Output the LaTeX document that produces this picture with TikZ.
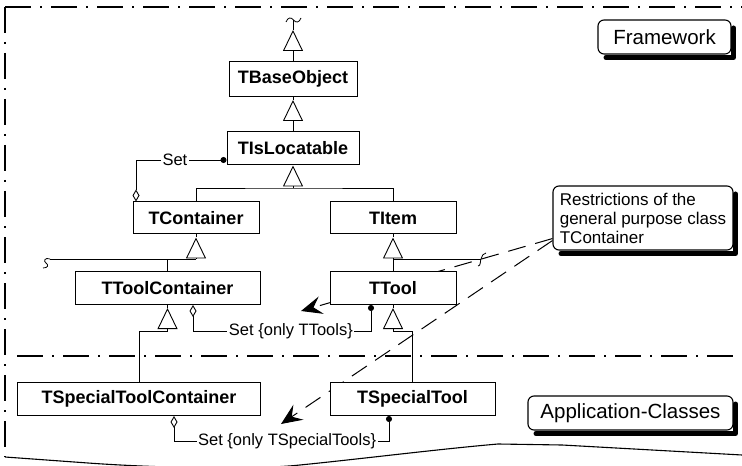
\documentclass[tikz,border=0pt]{standalone}
\usepackage{fontspec}
\setmainfont{Liberation Sans}
\usetikzlibrary{arrows.meta,calc}
\pgfdeclarelayer{bg}
\pgfsetlayers{bg,main}

\tikzset{
  cls/.style={draw, line width=1bp, fill=white, minimum height=33bp, inner sep=0pt,
    font=\bfseries\fontsize{18bp}{20bp}\selectfont},
  tag/.style={draw, line width=1.1bp, fill=white, rounded corners=6bp, inner sep=0pt,
    font=\fontsize{20.5bp}{24bp}\selectfont},
  shadowstroke/.style={draw=black, line width=5bp, line join=round, line cap=round},
  link/.style={line width=0.9bp},
  gen/.style={link, -{Triangle[open, length=21bp, width=20bp]}},
  aggr/.style={link, {Circle[length=6bp]}-{Diamond[open, length=12bp, width=7bp]}},
  lbl/.style={fill=white, inner sep=1.5bp, font=\fontsize{16.5bp}{19bp}\selectfont},
  frameline/.style={line width=1.1bp, dash pattern=on 26bp off 9bp on 2bp off 9bp},
  restr/.style={line width=1bp, dash pattern=on 18bp off 10bp,
    -{Stealth[length=21bp, width=18bp, inset=8bp]}},
  cutmark/.style={line width=0.8bp},
}

\begin{document}
\begin{tikzpicture}[x=1bp, y=-1bp]
\useasboundingbox (0,0) rectangle (742,466);
\begin{pgfonlayer}{bg}
  \fill[white] (0,0) rectangle (742,466);
\end{pgfonlayer}

% classes
\node[cls, minimum width=128bp, minimum height=35bp] (base) at (293,79) {TBaseObject};
\node[cls, minimum width=132bp] (loc) at (293,148.5) {TIsLocatable};
\node[cls, minimum width=126bp, minimum height=32bp] (cont) at (196,218) {TContainer};
\node[cls, minimum width=126bp, minimum height=32bp] (item) at (393,218) {TItem};
\node[cls, minimum width=185bp] (tcont) at (167.5,288) {TToolContainer};
\node[cls, minimum width=126bp] (tool) at (393,288) {TTool};
\node[cls, minimum width=242bp] (stcont) at (139,399) {TSpecialToolContainer};
\node[cls, minimum width=165bp] (stool) at (412.5,399) {TSpecialTool};

% layer tags and note
\node[tag, minimum width=133bp, minimum height=34bp] (fw) at (664.5,37) {Framework};
\node[tag, minimum width=205bp, minimum height=34bp] (app) at (630.5,413) {Application-Classes};
\node[tag, font=\fontsize{17bp}{19bp}\selectfont, align=left,
  inner xsep=5bp, minimum width=180bp, minimum height=64bp] (note) at (643,218)
  {Restrictions of the\\general purpose class\\TContainer};

% cast shadows along the lower and right edges of the tags
\coordinate (fwA) at (606,57.5);  \coordinate (fwB) at (733.5,57.5);  \coordinate (fwC) at (733.5,28);
\coordinate (appA) at (536,433.5); \coordinate (appB) at (735.5,433.5); \coordinate (appC) at (735.5,404);
\coordinate (noteA) at (561,253.5); \coordinate (noteB) at (735.5,253.5); \coordinate (noteC) at (735.5,194);
\draw[shadowstroke] (fwA) -- (fwB) -- (fwC);
\draw[shadowstroke] (appA) -- (appB) -- (appC);
\draw[shadowstroke] (noteA) -- (noteB) -- (noteC);

% inheritance
\coordinate (topapex) at (293,30);
\coordinate (topcut) at (293,20.5);
\draw[gen] (base.north) -- (topapex);
\draw[link] (topapex) -- (topcut);
\draw[cutmark] (286,22) .. controls (288,17) and (291,17) .. (293.5,20)
  .. controls (296,23) and (299,23) .. (301,18);

\draw[gen] (loc.north) -- ([yshift=-3bp]base.south);
\draw[link] (base.south) -- ([yshift=-3bp]base.south);

\coordinate (j1) at (293,188);
\draw[gen] (j1) -- (loc.south);
\draw[link] (cont.north) |- (j1) -| (item.north);

\coordinate (j2) at (196,259);
\coordinate (sqL) at (50,259);
\draw[gen] (j2) -- ([yshift=-3bp]cont.south);
\draw[link] (cont.south) -- ([yshift=-3bp]cont.south);
\draw[link] (sqL) -- (j2);
\draw[link] (tcont.north) -- (tcont.north |- j2);
\draw[cutmark] (sqL) .. controls (45,257) and (43,261) .. (46,263)
  .. controls (49,265) and (48,268) .. (43,268);

\coordinate (j3) at (393,259);
\coordinate (sqR) at (481,259);
\draw[gen] (j3) -- ([yshift=-3bp]item.south);
\draw[link] (item.south) -- ([yshift=-3bp]item.south);
\draw[link] (tool.north) -- (j3) -- (sqR);
\draw[cutmark] (478,266) .. controls (481,266) and (480,261) .. (sqR)
  .. controls (482,256) and (483,253) .. (486,253);

\coordinate (j4) at (167.5,331);
\draw[gen] (j4) -- ([yshift=-3bp]tcont.south);
\draw[link] (tcont.south) -- ([yshift=-3bp]tcont.south);
\draw[link] (stcont.north) |- (j4);

\coordinate (j5) at (393,331);
\draw[gen] (j5) -- ([yshift=-3bp]tool.south);
\draw[link] (tool.south) -- ([yshift=-3bp]tool.south);
\draw[link] (stool.north) |- (j5);

% aggregations
\coordinate (s1) at (136,160);
\draw[aggr] (loc.west |- s1) -- node[lbl, pos=0.57] {Set} (s1) -- (cont.north -| s1);

\coordinate (s2a) at (371,331);
\coordinate (s2b) at (193,331);
\draw[aggr] (tool.south -| s2a) -- (s2a) -- node[lbl, pos=0.45] {Set \{only TTools\}} (s2b)
  -- (tcont.south -| s2b);

\coordinate (s3a) at (389,441);
\coordinate (s3b) at (174,441);
\draw[aggr] (stool.south -| s3a) -- (s3a) -- node[lbl, pos=0.474] {Set \{only TSpecialTools\}} (s3b)
  -- (stcont.south -| s3b);

% frame, layer separator, torn lower edge and restriction pointers
\coordinate (r1) at (301,311);
\coordinate (r2) at (281,424);
\begin{pgfonlayer}{bg}
  \draw[frameline] (5,7) -- (742,7);
  \draw[frameline] (5,7) -- (5,457);
  \draw[frameline] (17,356) -- (742,356);
  \draw[line width=1.1bp] (5,457) -- (88,463) .. controls (150,467.5) and (250,470.3) .. (300,465)
    .. controls (360,459) and (440,449) .. (498,444) -- (562,445) -- (742,455);
  \draw[restr] ([yshift=12bp]note.south west) -- (r1);
  \draw[restr] ([yshift=10bp]note.south west) -- (r2);
\end{pgfonlayer}
\end{tikzpicture}
\end{document}
